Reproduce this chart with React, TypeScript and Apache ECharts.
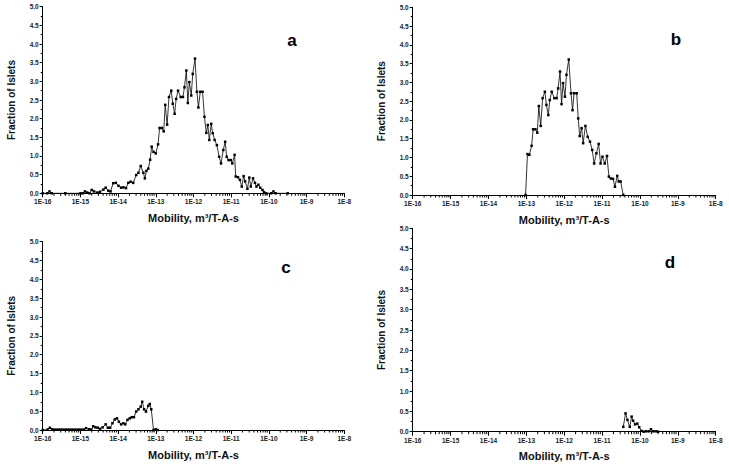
import React, { useEffect, useRef } from "react";
import * as echarts from "echarts";

// ---- Data (exponent of mobility, i.e. log10 of m^2/T-A-s; fraction of islets) ----
const aExp = [
  -16.0, -15.88, -15.82, -15.76, -15.4, -15.0, -14.94, -14.88, -14.82, -14.76, -14.7, -14.64, -14.55, -14.48,
  -14.39, -14.33, -14.26, -14.2, -14.13, -14.06, -13.99, -13.92, -13.86, -13.79, -13.73, -13.67, -13.6, -13.52,
  -13.46, -13.4, -13.33, -13.29, -13.25, -13.2, -13.15, -13.11, -13.06, -13.0, -12.94, -12.9, -12.84, -12.79,
  -12.75, -12.7, -12.65, -12.59, -12.55, -12.5, -12.46, -12.41, -12.34, -12.28, -12.24, -12.19, -12.15, -12.11,
  -12.06, -12.02, -11.96, -11.91, -11.87, -11.82, -11.76, -11.71, -11.66, -11.62, -11.58, -11.53, -11.49, -11.44,
  -11.38, -11.32, -11.27, -11.21, -11.16, -11.12, -11.07, -11.01, -10.97, -10.91, -10.88, -10.82, -10.77, -10.72,
  -10.67, -10.63, -10.57, -10.52, -10.48, -10.42, -10.37, -10.33, -10.28, -10.23, -10.17, -10.13, -10.07, -9.94,
  -9.88, -9.82, -9.5,
];
const aVal = [
  0, 0, 0.05, 0, 0, 0, 0, 0.05, 0.02, 0, 0.09, 0.05, 0.02, 0.04,
  0.1, 0.15, 0.07, 0.05, 0.27, 0.28, 0.2, 0.15, 0.16, 0.14, 0.28, 0.31, 0.28, 0.49,
  0.55, 0.73, 0.55, 0.4, 0.6, 0.66, 0.9, 1.25, 1.11, 1.07, 1.31, 1.75, 1.75, 1.66,
  2.37, 1.84, 2.58, 2.75, 2.4, 2.13, 2.53, 2.75, 2.58, 2.58, 2.84, 3.29, 2.42, 2.98,
  2.62, 3.2, 3.61, 2.72, 2.3, 2.72, 2.72, 2.05, 1.62, 1.83, 1.43, 1.86, 1.61, 1.43,
  1.29, 0.98, 0.8, 1.16, 1.38, 0.98, 0.89, 0.89, 0.8, 1.03, 0.45, 0.43, 0.36, 0.18,
  0.46, 0.32, 0.12, 0.42, 0.18, 0.4, 0.28, 0.18, 0.23, 0.15, 0.09, 0.03, 0, 0,
  0.05, 0, 0,
];

const bExp = [
  -13.02, -12.97, -12.92, -12.86, -12.82, -12.76, -12.71, -12.67, -12.62, -12.57, -12.51, -12.47, -12.42,
  -12.38, -12.33, -12.26, -12.2, -12.16, -12.11, -12.07, -12.03, -11.98, -11.94, -11.88, -11.82, -11.78,
  -11.74, -11.67, -11.63, -11.59, -11.54, -11.5, -11.44, -11.38, -11.32, -11.26, -11.21, -11.15, -11.09,
  -11.04, -10.99, -10.93, -10.87, -10.82, -10.77, -10.71, -10.66, -10.6, -10.56, -10.51, -10.44,
];
const bVal = [
  0, 1.09, 1.07, 1.31, 1.75, 1.75, 1.66, 2.37, 1.84, 2.58, 2.75, 2.4, 2.13,
  2.53, 2.75, 2.58, 2.58, 2.84, 3.29, 2.42, 2.98, 2.62, 3.2, 3.61, 2.71, 2.26,
  2.71, 2.71, 2.04, 1.57, 1.78, 1.38, 1.84, 1.55, 1.42, 1.2, 0.84, 1.11, 1.36,
  0.84, 1.02, 0.84, 1.04, 0.49, 0.44, 0.43, 0.22, 0.51, 0.36, 0.36, 0,
];

const cExp = [
  -16.0, -15.87, -15.81, -15.75, -15.69, -15.63, -15.57, -15.51, -15.45, -15.39, -15.33, -15.27, -15.21,
  -15.15, -15.09, -15.03, -14.97, -14.91, -14.85, -14.77, -14.71, -14.66, -14.6, -14.54, -14.48, -14.41,
  -14.33, -14.27, -14.21, -14.15, -14.09, -14.03, -13.98, -13.92, -13.86, -13.81, -13.75, -13.69, -13.64,
  -13.58, -13.52, -13.46, -13.4, -13.36, -13.31, -13.26, -13.2, -13.16, -13.12, -13.06, -13.0, -12.95,
];
const cVal = [
  0, 0.01, 0.06, 0.02, 0.01, 0.01, 0.01, 0.01, 0.01, 0.01, 0.01, 0.01, 0.01,
  0.01, 0.01, 0.01, 0.01, 0.01, 0.05, 0.02, 0.01, 0.1, 0.07, 0.06, 0.03, 0.07,
  0.15, 0.06, 0.06, 0.18, 0.28, 0.31, 0.22, 0.15, 0.18, 0.15, 0.27, 0.31, 0.34,
  0.34, 0.49, 0.55, 0.62, 0.75, 0.55, 0.49, 0.64, 0.69, 0.55, 0.0, 0.02, 0,
];

const dExp = [
  -10.44, -10.38, -10.33, -10.27, -10.22, -10.18, -10.13, -10.07, -10.02, -9.96, -9.9, -9.84, -9.77, -9.71,
  -9.65, -9.58, -9.52,
];
const dVal = [
  0.12, 0.45, 0.29, 0.12, 0.37, 0.27, 0.18, 0.2, 0.11, 0.02, 0, 0.01, 0.01, 0.06,
  0.01, 0.01, 0,
];

const panelLetters = ["a", "b", "c", "d"];
const xTitle = "Mobility, m\u00B3/T-A-s";
const yTitle = "Fraction of Islets";

const FONT = "'Liberation Sans', Arial, sans-serif";

// panel layout (pixels)
const grids = [
  { left: 42.7, top: 6.7, width: 301.6, height: 186.6 },
  { left: 412.7, top: 7.3, width: 303, height: 187.7 },
  { left: 42.7, top: 241.7, width: 301.6, height: 188.3 },
  { left: 412.7, top: 228.3, width: 303, height: 203.4 },
];
const letterPos = [
  [292, 40],
  [676, 39],
  [286, 267],
  [670, 262],
];

function toPairs(exps: number[], vals: number[]) {
  return exps.map((e, i) => [Math.pow(10, e), vals[i]]);
}

export default function App() {
  const ref = useRef<HTMLDivElement>(null);
  useEffect(() => {
    if (!ref.current) return;
    const chart = echarts.init(ref.current, undefined, { renderer: "svg" });
    const datasets = [
      toPairs(aExp, aVal),
      toPairs(bExp, bVal),
      toPairs(cExp, cVal),
      toPairs(dExp, dVal),
    ];
    const minorTicks: number[][] = [];
    for (let e = -16; e < -8; e++) {
      for (let k = 2; k <= 9; k++) minorTicks.push([k * Math.pow(10, e), 0]);
    }
    const xAxes = grids.map((_, i) => ({
      type: "log",
      logBase: 10,
      gridIndex: i,
      min: 1e-16,
      max: 1e-8,
      splitNumber: 8,
      axisLine: { show: true, lineStyle: { color: "#000", width: 1 } },
      axisTick: { show: true, length: 4, lineStyle: { color: "#000", width: 1 } },
      minorTick: { show: false },
      splitLine: { show: false },
      axisLabel: {
        formatter: (v: number) => "1E" + Math.round(Math.log10(v)),
        fontSize: 6.5,
        fontWeight: "bold",
        color: "#222",
        margin: 5,
        fontFamily: FONT,
        showMinLabel: true,
        showMaxLabel: true,
      },
      name: xTitle,
      nameLocation: "middle",
      nameGap: 19,
      nameTextStyle: { fontSize: 11, fontWeight: "bold", color: "#111", fontFamily: FONT },
    }));
    const yAxes = grids.map((_, i) => ({
      type: "value",
      gridIndex: i,
      min: 0,
      max: 5,
      interval: 0.5,
      axisLine: { show: true, lineStyle: { color: "#000", width: 1 } },
      axisTick: { show: true, length: 3, lineStyle: { color: "#000" } },
      minorTick: { show: true, splitNumber: 2, length: 2, lineStyle: { color: "#000" } },
      splitLine: { show: false },
      axisLabel: {
        formatter: (v: number) => v.toFixed(1),
        fontSize: 6.5,
        fontWeight: "bold",
        color: "#222",
        margin: 4,
        fontFamily: FONT,
      },
      name: yTitle,
      nameLocation: "middle",
      nameRotate: 90,
      nameGap: 26,
      nameTextStyle: { fontSize: 10, fontWeight: "bold", color: "#111", fontFamily: FONT },
    }));
    const lineSeries = datasets.map((d, i) => ({
      type: "line",
      xAxisIndex: i,
      yAxisIndex: i,
      data: d,
      symbol: "rect",
      symbolSize: 2.5,
      showSymbol: true,
      lineStyle: { color: "#000", width: 0.8 },
      itemStyle: { color: "#000" },
      z: 3,
    }));
    const tickSeries = grids.map((_, i) => ({
      type: "custom",
      xAxisIndex: i,
      yAxisIndex: i,
      data: minorTicks,
      silent: true,
      clip: false,
      z: 1,
      renderItem: (_p: any, api: any) => {
        const pt = api.coord([api.value(0), 0]);
        return {
          type: "line",
          shape: { x1: pt[0], y1: pt[1], x2: pt[0], y2: pt[1] + 2.5 },
          style: { stroke: "#000", lineWidth: 1 },
        };
      },
    }));
    chart.setOption({
      animation: false,
      backgroundColor: "#fff",
      grid: grids.map((g) => ({ ...g, containLabel: false })),
      xAxis: xAxes,
      yAxis: yAxes,
      series: [...lineSeries, ...tickSeries],
      graphic: panelLetters.map((t, i) => ({
        type: "text",
        x: letterPos[i][0],
        y: letterPos[i][1],
        style: {
          text: t,
          fontSize: 17,
          fontWeight: "bold",
          fontFamily: FONT,
          fill: "#000",
          textAlign: "center",
          textVerticalAlign: "middle",
        },
      })),
    });
    return () => chart.dispose();
  }, []);
  return (
    <div
      ref={ref}
      style={{ position: "fixed", left: 0, top: 0, width: 729, height: 468, background: "#fff" }}
    />
  );
}
